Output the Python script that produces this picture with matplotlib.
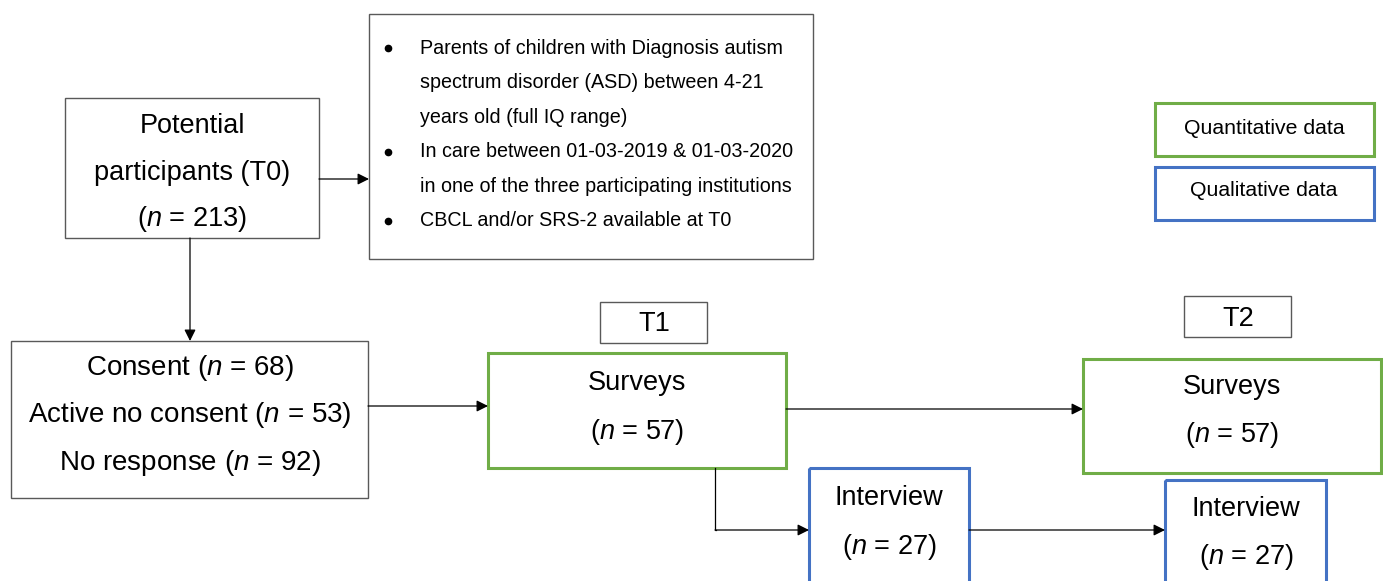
import matplotlib.pyplot as plt
from matplotlib.patches import Rectangle

plt.rcParams['font.family'] = ['Liberation Sans', 'DejaVu Sans']
plt.rcParams['mathtext.fontset'] = 'custom'
plt.rcParams['mathtext.it'] = 'Liberation Sans:italic'
plt.rcParams['mathtext.rm'] = 'Liberation Sans'

# texts / counts
n_potential = 213
consent_labels = ['Consent', 'Active no consent', 'No response']
consent_counts = [68, 53, 92]
n_surveys = [57, 57]
n_interview = [27, 27]
time_labels = ['T1', 'T2']
criteria = [
    ['Parents of children with Diagnosis autism',
     'spectrum disorder (ASD) between 4-21',
     'years old (full IQ range)'],
    ['In care between 01-03-2019 & 01-03-2020',
     'in one of the three participating institutions'],
    ['CBCL and/or SRS-2 available at T0'],
]
legend_labels = ['Quantitative data', 'Qualitative data']

GREEN = '#70ad47'
BLUE = '#4472c4'
GREY = '#595959'


def ntext(n):
    return '($n$ = %d)' % n


fig = plt.figure(figsize=(13.83, 5.81), dpi=100)
ax = fig.add_axes([0, 0, 1, 1])
ax.set_xlim(0, 1383)
ax.set_ylim(581, 0)
ax.axis('off')


def box(x0, y0, x1, y1, ec=GREY, lw=1.0):
    ax.add_patch(Rectangle((x0, y0), x1 - x0, y1 - y0, fill=False, ec=ec, lw=lw))


def label(x, y, s, fs=19.5, ha='center'):
    ax.text(x, y + 2, s, ha=ha, va='center', fontsize=fs)


def arrow(p0, p1):
    ax.annotate('', xy=p1, xytext=p0,
                arrowprops=dict(arrowstyle='-|>', color='black', lw=0.9,
                                mutation_scale=17, shrinkA=0, shrinkB=0))


# potential participants
box(65, 98, 319, 238)
label(192, 124, 'Potential')
label(192, 171, 'participants (T0)')
label(192, 217, ntext(n_potential))

# inclusion criteria
box(369, 14, 813, 259)
y = 46
for item in criteria:
    ax.plot(388, y + 2, 'o', color='black', ms=4.5)
    for line in item:
        label(420, y, line, fs=14.2, ha='left')
        y += 34.6

# legend
box(1155, 103, 1374, 156, ec=GREEN, lw=2.2)
box(1155, 167, 1374, 220, ec=BLUE, lw=2.2)
label(1264, 126, legend_labels[0], fs=15.3)
label(1264, 189, legend_labels[1], fs=15.3)

# consent box
box(11, 341, 368, 498)
for i, (lab, c) in enumerate(zip(consent_labels, consent_counts)):
    label(190, 366 + 47.5 * i, '%s ($n$ = %d)' % (lab, c), fs=20)

# time labels
box(600, 302, 707, 343)
label(654, 322, time_labels[0])
box(1184, 296, 1291, 337)
label(1238, 317, time_labels[1])

# surveys
box(488, 353, 786, 468, ec=GREEN, lw=2.2)
label(637, 381, 'Surveys')
label(637, 430, ntext(n_surveys[0]))
box(1083, 359, 1381, 473, ec=GREEN, lw=2.2)
label(1232, 385, 'Surveys')
label(1232, 433, ntext(n_surveys[1]))

# interviews
box(809, 468, 969, 600, ec=BLUE, lw=2.2)
label(889, 496, 'Interview')
label(889, 545, ntext(n_interview[0]))
box(1165, 480, 1326, 600, ec=BLUE, lw=2.2)
label(1246, 507, 'Interview')
label(1246, 555, ntext(n_interview[1]))

# arrows
arrow((319, 179), (369, 179))
arrow((190, 238), (190, 341))
arrow((368, 406), (488, 406))
arrow((786, 409), (1083, 409))
ax.plot([715, 715, 716], [468, 530, 530], color='black', lw=0.9,
        solid_joinstyle='miter')
arrow((715, 530), (809, 530))
arrow((969, 530), (1165, 530))

fig.savefig('out.png', dpi=100)
